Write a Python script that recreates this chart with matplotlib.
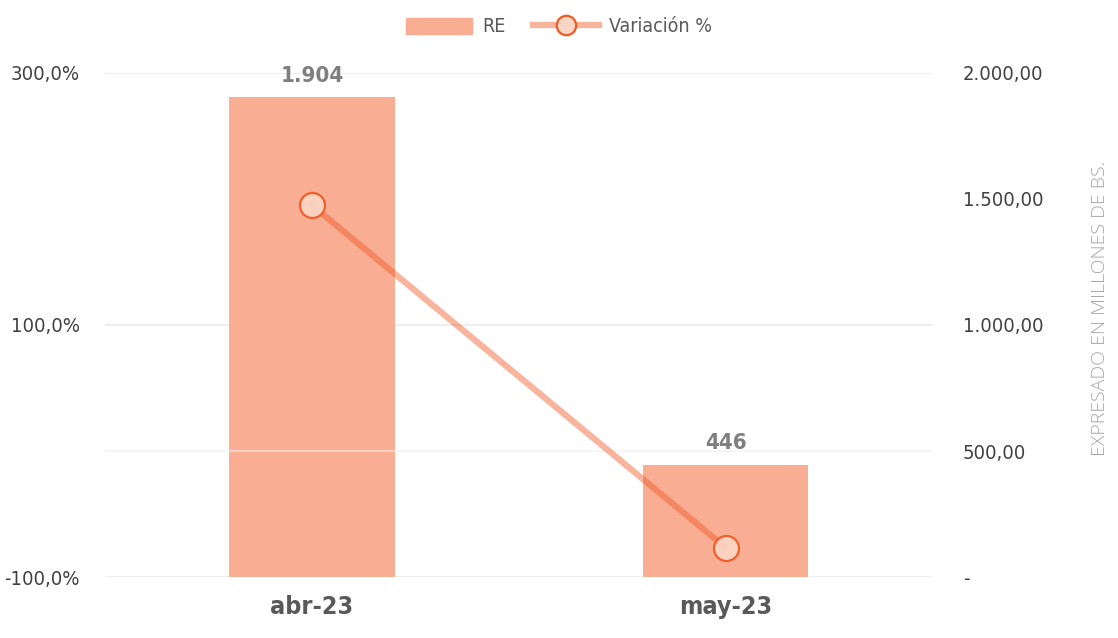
import numpy as np
import matplotlib.pyplot as plt
from matplotlib.patches import Patch
from matplotlib.lines import Line2D

plt.rcParams['font.family'] = ['DejaVu Sans']
plt.rcParams['font.stretch'] = 'condensed'

# data
months = ['abr-23', 'may-23']
re_values = [1904, 446]
variation = [195.0, -76.6]
re_labels = ['1.904', '446']

left_ticks = [-100, 100, 300]
left_tick_labels = ['-100,0%', '100,0%', '300,0%']
right_ticks = [0, 500, 1000, 1500, 2000]
right_tick_labels = ['-', '500,00', '1.000,00', '1.500,00', '2.000,00']
grid_values = [0, 1000, 2000]

bar_color = '#F9AD93'
line_color = '#F05A24'

fig = plt.figure(figsize=(11.18, 6.38), dpi=100)
ax = fig.add_axes([0.094, 0.0956, 0.740, 0.790])
x = np.arange(len(months))

# bars on the primary axes, shown against the right scale
ax.bar(x, re_values, width=0.4, color=bar_color, zorder=2)
for g in grid_values:
    ax.axhline(g, color='#EEEEEE', lw=1.5, zorder=0)
ax.set_ylim(0, 2000)
ax.set_xlim(-0.5, 1.5)
for xi, v, lab in zip(x, re_values, re_labels):
    ax.text(xi, v + 45, lab, ha='center', va='bottom', fontsize=16,
            fontweight='bold', color='#7F7F7F')

ax.set_xticks(x)
ax.set_xticklabels(months, fontsize=18, fontweight='bold', color='#595959')
ax.tick_params(axis='x', length=0, pad=13)
for s in ax.spines.values():
    s.set_visible(False)

# line on the twin, with its scale on the left
ax2 = ax.twinx()
ax2.yaxis.tick_left()
ax2.set_ylim(-100, 300)
ax2.set_yticks(left_ticks)
ax2.set_yticklabels(left_tick_labels, fontsize=14.5, color='#404040')
ax2.tick_params(axis='y', length=0, pad=18)
for s in ax2.spines.values():
    s.set_visible(False)
ax2.axhline(0, color='#F0F0F0', lw=1.5, alpha=0.55, zorder=1)

ax.yaxis.tick_right()
ax.set_yticks(right_ticks)
ax.set_yticklabels(right_tick_labels, fontsize=14.5, color='#404040')
ax.tick_params(axis='y', length=0, pad=22, labelleft=False, labelright=True)

ax2.plot(x, variation, color=line_color, alpha=0.45, lw=4.5,
         solid_capstyle='round', zorder=3)
ax2.plot(x, variation, linestyle='none', marker='o', markersize=18,
         markerfacecolor='#F9D5C3', markeredgecolor=line_color,
         markeredgewidth=1.6, alpha=0.95, zorder=4)

fig.text(0.984, 0.517, 'EXPRESADO EN MILLONES DE BS.', rotation=90,
         ha='center', va='center', fontsize=14, color='#A6A6A6',
         family=['Open Sans', 'DejaVu Sans'], fontweight='light',
         fontstretch='normal')

handles = [
    Patch(color=bar_color, label='RE'),
    Line2D([0], [0], color='#F8B59C', lw=4.5, marker='o', markersize=14,
           markerfacecolor='#F9D5C3', markeredgecolor=line_color,
           markeredgewidth=1.6, label='Variación %'),
]
fig.legend(handles=handles, loc='upper center', bbox_to_anchor=(0.5, 1.0),
           ncol=2, frameon=False, fontsize=14, labelcolor='#595959',
           handlelength=3.4, handleheight=0.9, columnspacing=1.4,
           handletextpad=0.5)

fig.savefig('out.png', dpi=100)
